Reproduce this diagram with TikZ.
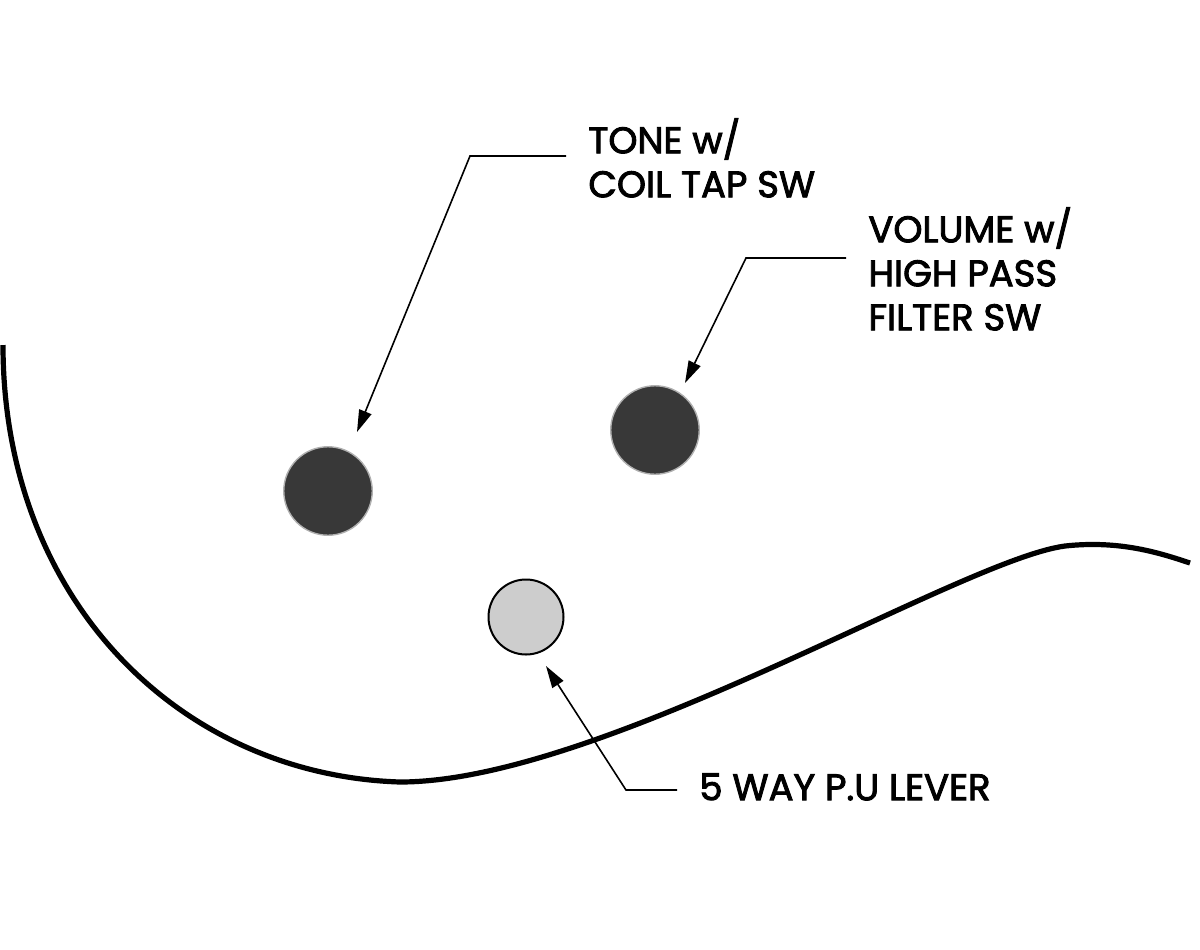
\documentclass[tikz,border=0pt]{standalone}
\usepackage{fontspec}
\setmainfont{Poppins}
\newfontface\calloutfont{Poppins}[FakeBold=2.5]
\usepackage{tikz}
\usetikzlibrary{arrows.meta,positioning,calc}
\definecolor{knobgrey}{HTML}{383838}
\definecolor{knobrim}{HTML}{B0B0B0}
\definecolor{levergrey}{HTML}{CDCDCD}
\tikzset{
  knob/.style={circle,fill=knobgrey,draw=knobrim,line width=0.7pt,minimum size=44.25pt,inner sep=0pt},
  leverknob/.style={circle,fill=levergrey,draw=black,line width=1pt,minimum size=37.5pt,inner sep=0pt},
  callout/.style={inner sep=0pt,align=left,font=\calloutfont\fontsize{18.5}{22}\selectfont},
  pointer/.style={line width=0.8pt,-{Triangle[length=11pt,width=6.5pt]},shorten <=11pt},
  bodyline/.style={line width=2.6pt}
}

\begin{document}
\begin{tikzpicture}[x=0.5pt,y=-0.5pt]
\useasboundingbox (0,0) rectangle (1200,949);

% body outline
\draw[bodyline] (3,345) .. controls (3,600) and (180,775) .. (400,782)
  .. controls (600,782) and (960,560) .. (1065,546)
  .. controls (1120,540) and (1160,553) .. (1190,563);

% controls
\node[knob] (tone) at (328,491) {};
\node[knob] (volume) at (655,430) {};
\node[leverknob] (lever) at (526,617) {};

% labels
\node[callout,anchor=north west] (tonelbl) at (588,118) {TONE w/\\COIL TAP SW};
\node[callout,anchor=north west] (volumelbl) at (868,207) {VOLUME w/\\HIGH PASS\\FILTER SW};
\node[callout,anchor=north west] (leverlbl) at (699,773) {5 WAY P.U LEVER};

% leaders
\coordinate (tonebend) at (470,156);
\coordinate (tonetip) at (357,432);
\coordinate (volumebend) at (746,258);
\coordinate (volumetip) at (685,383);
\coordinate (leverbend) at (626,790);
\coordinate (levertip) at (546,666);
\draw[pointer] (tonelbl.west |- tonebend) -- (tonebend) -- (tonetip);
\draw[pointer] (volumelbl.west |- volumebend) -- (volumebend) -- (volumetip);
\draw[pointer] (leverlbl.west |- leverbend) -- (leverbend) -- (levertip);
\end{tikzpicture}
\end{document}
